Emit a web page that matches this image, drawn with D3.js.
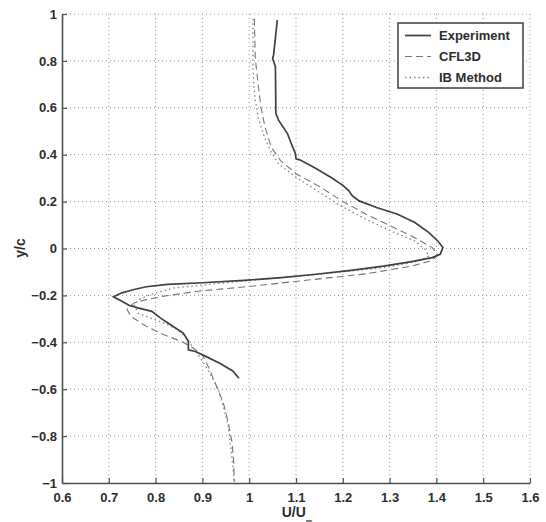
<!DOCTYPE html>
<html><head><meta charset="utf-8">
<script src="https://cdn.jsdelivr.net/npm/d3@7"></script>
<style>body{margin:0;background:#fff}svg{display:block}text{font-family:"Liberation Sans",Arial,sans-serif}</style>
</head><body><svg id="c" width="546" height="522"></svg>
<script>
const xTicks = [0.6,0.7,0.8,0.9,1,1.1,1.2,1.3,1.4,1.5,1.6];
const yTicks = [-1,-0.8,-0.6,-0.4,-0.2,0,0.2,0.4,0.6,0.8,1];
const seriesNames = ["Experiment","CFL3D","IB Method"];
const experiment = [[1.060,0.974],[1.052,0.824],[1.050,0.810],[1.056,0.775],[1.057,0.575],[1.063,0.546],[1.082,0.489],[1.093,0.432],[1.099,0.403],[1.100,0.382],[1.108,0.378],[1.138,0.346],[1.175,0.303],[1.201,0.268],[1.213,0.246],[1.220,0.225],[1.235,0.203],[1.272,0.175],[1.317,0.146],[1.354,0.111],[1.384,0.068],[1.403,0.032],[1.414,0.004],[1.408,-0.025],[1.391,-0.039],[1.347,-0.056],[1.287,-0.075],[1.213,-0.094],[1.138,-0.111],[1.063,-0.125],[0.989,-0.136],[0.900,-0.146],[0.825,-0.153],[0.780,-0.163],[0.754,-0.175],[0.728,-0.189],[0.710,-0.206],[0.724,-0.221],[0.743,-0.242],[0.762,-0.253],[0.792,-0.268],[0.810,-0.296],[0.832,-0.325],[0.859,-0.361],[0.870,-0.396],[0.870,-0.432],[0.885,-0.439],[0.907,-0.460],[0.937,-0.489],[0.965,-0.522],[0.978,-0.553]];
const cfl3d = [[1.011,0.980],[1.013,0.810],[1.019,0.703],[1.025,0.603],[1.034,0.517],[1.047,0.432],[1.067,0.375],[1.101,0.318],[1.153,0.261],[1.198,0.203],[1.250,0.146],[1.302,0.096],[1.354,0.046],[1.391,0.004],[1.403,-0.025],[1.391,-0.051],[1.347,-0.075],[1.250,-0.108],[1.138,-0.132],[1.004,-0.161],[0.892,-0.182],[0.818,-0.203],[0.780,-0.218],[0.754,-0.232],[0.739,-0.260],[0.747,-0.289],[0.780,-0.332],[0.818,-0.368],[0.855,-0.396],[0.881,-0.425],[0.900,-0.453],[0.914,-0.510],[0.929,-0.582],[0.944,-0.653],[0.955,-0.739],[0.963,-0.824],[0.967,-0.910],[0.968,-0.996]];
const ibMethod = [[1.008,0.980],[1.008,0.775],[1.011,0.660],[1.019,0.560],[1.030,0.489],[1.045,0.418],[1.063,0.360],[1.101,0.303],[1.145,0.246],[1.190,0.189],[1.242,0.132],[1.302,0.075],[1.354,0.032],[1.376,-0.004],[1.384,-0.032],[1.362,-0.054],[1.287,-0.082],[1.175,-0.104],[1.063,-0.125],[0.952,-0.146],[0.840,-0.168],[0.788,-0.196],[0.765,-0.218],[0.754,-0.239],[0.762,-0.275],[0.788,-0.296],[0.818,-0.318],[0.847,-0.346],[0.866,-0.382],[0.881,-0.425],[0.896,-0.468],[0.914,-0.525],[0.933,-0.596],[0.944,-0.668],[0.955,-0.753],[0.960,-0.839],[0.965,-0.924],[0.968,-0.996]];

const svg = d3.select("#c");
const L = 62, R = 530, T = 14, B = 483;
const x = d3.scaleLinear().domain([0.6,1.6]).range([L,R]);
const y = d3.scaleLinear().domain([-1,1]).range([B,T]);
const gridCol = "#8a9898", axisCol = "#4a5252";

// grid
const g = svg.append("g");
g.selectAll(".gx").data(xTicks.slice(1)).join("line")
  .attr("x1",d=>x(d)).attr("x2",d=>x(d)).attr("y1",T).attr("y2",B)
  .attr("stroke",gridCol).attr("stroke-width",1).attr("stroke-dasharray","1,3");
g.selectAll(".gy").data(yTicks.slice(1)).join("line")
  .attr("y1",d=>y(d)).attr("y2",d=>y(d)).attr("x1",L).attr("x2",R)
  .attr("stroke",gridCol).attr("stroke-width",1).attr("stroke-dasharray","1,3");

// axes
const xAxis = d3.axisBottom(x).tickValues(xTicks).tickSizeInner(-5).tickSizeOuter(0).tickPadding(10).tickFormat(d3.format("~g"));
const yAxis = d3.axisLeft(y).tickValues(yTicks).tickSizeInner(-5).tickSizeOuter(0).tickPadding(5).tickFormat(d3.format("~g"));
const gx = svg.append("g").attr("transform",`translate(0,${B})`).call(xAxis);
const gy = svg.append("g").attr("transform",`translate(${L},0)`).call(yAxis);
[gx,gy].forEach(a=>{
  a.select(".domain").attr("stroke",axisCol).attr("stroke-width",1.6);
  a.selectAll(".tick line").attr("stroke",axisCol).attr("stroke-width",1.2);
  a.selectAll(".tick text").attr("fill","#2a2e2e").attr("font-size",13).attr("font-weight","bold")
    .attr("font-family","'Liberation Sans',Arial,sans-serif");
});

// curves
const line = d3.line().x(d=>x(d[0])).y(d=>y(d[1]));
svg.append("path").datum(cfl3d).attr("d",line).attr("fill","none")
  .attr("stroke","#6f7878").attr("stroke-width",1.1).attr("stroke-dasharray","7,4");
svg.append("path").datum(ibMethod).attr("d",line).attr("fill","none")
  .attr("stroke","#7a8585").attr("stroke-width",1.3).attr("stroke-dasharray","1.5,3");
svg.append("path").datum(experiment).attr("d",line).attr("fill","none")
  .attr("stroke","#3a4242").attr("stroke-width",1.7);

// labels
svg.append("text").attr("x",297).attr("y",517).attr("text-anchor","middle")
  .attr("font-size",14).attr("font-weight","bold").attr("fill","#2a2e2e")
  .text("U/U").append("tspan").attr("dy",7).attr("font-size",9).text("∞");
svg.append("text").attr("transform","translate(25,248) rotate(-90)").attr("text-anchor","middle")
  .attr("font-size",14).attr("font-weight","bold").attr("fill","#2a2e2e").text("y/c");

// legend
const lg = svg.append("g");
lg.append("rect").attr("x",398).attr("y",23).attr("width",125).attr("height",65)
  .attr("fill","#fff").attr("stroke","#3a4242").attr("stroke-width",1.5);
const styles = [{c:"#3a4242",w:1.7,d:null},{c:"#6f7878",w:1.1,d:"7,4"},{c:"#7a8585",w:1.3,d:"1.5,3"}];
seriesNames.forEach((n,i)=>{
  const yy = 35.5 + i*21;
  lg.append("line").attr("x1",405).attr("x2",431).attr("y1",yy).attr("y2",yy)
    .attr("stroke",styles[i].c).attr("stroke-width",styles[i].w).attr("stroke-dasharray",styles[i].d);
  lg.append("text").attr("x",439).attr("y",yy).attr("dy","0.36em").attr("font-size",13)
    .attr("font-weight","bold").attr("fill","#2a2e2e").text(n);
});
</script></body></html>
